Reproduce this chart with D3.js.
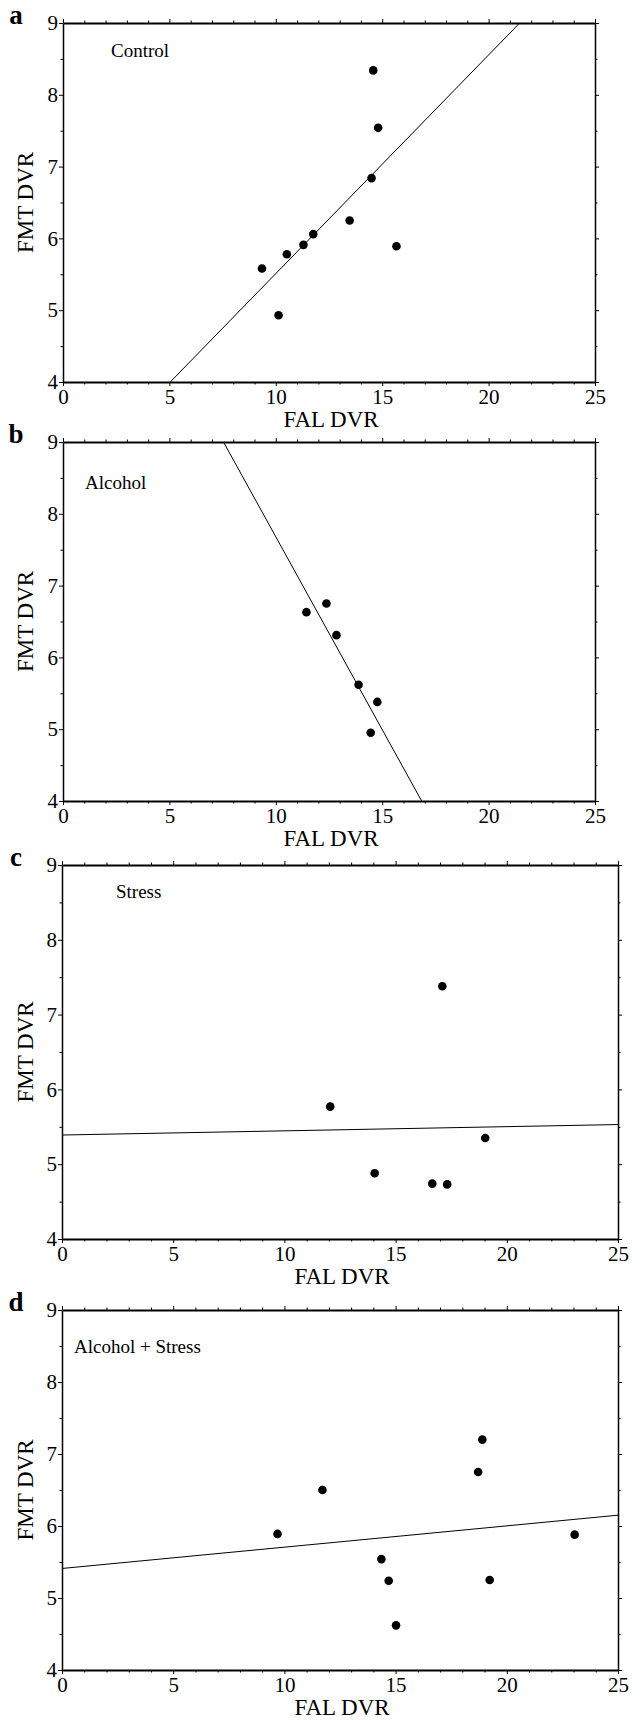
<!DOCTYPE html>
<html lang="en">
<head>
<meta charset="utf-8">
<script src="https://d3js.org/d3.v7.min.js"></script>
<style type="text/css">
body {
  margin: 0;
  background-color: #ffffff;
}
.axis line, .axis path {
  stroke: #000;
  fill: none;
}
</style>
</head>
<body>
<script type="text/javascript">

// panel letters and group names
var panelLetters = ["a", "b", "c", "d"];
var groupNames = ["Control", "Alcohol", "Stress", "Alcohol + Stress"];

// FAL DVR (x) and FMT DVR (y) per group
var controlX = [9.35, 10.13, 10.52, 11.30, 11.76, 13.47, 14.50, 14.58, 14.81, 15.67];
var controlY = [5.58, 4.93, 5.78, 5.91, 6.06, 6.25, 6.84, 8.34, 7.54, 5.89];

var alcoholX = [11.44, 12.38, 12.85, 13.89, 14.77, 14.46];
var alcoholY = [6.63, 6.75, 6.31, 5.62, 5.38, 4.95];

var stressX = [12.06, 17.10, 14.06, 16.65, 17.32, 19.03];
var stressY = [5.77, 7.38, 4.88, 4.74, 4.73, 5.35];

var comboX = [9.69, 11.71, 14.36, 14.69, 15.02, 18.71, 18.90, 19.23, 23.05];
var comboY = [5.89, 6.50, 5.54, 5.24, 4.62, 6.75, 7.20, 5.25, 5.88];

// regression lines: [intercept, slope]
var controlFit = [2.465, 0.3045];
var alcoholFit = [13.05, -0.537];
var stressFit = [5.39, 0.0056];
var comboFit = [5.41, 0.0296];

// axes
var xDomain = [0, 25];
var yDomain = [4, 9];
var xMajorTicks = [0, 5, 10, 15, 20, 25];
var yMajorTicks = [4, 5, 6, 7, 8, 9];
var xTitle = "FAL DVR";
var yTitle = "FMT DVR";

var xsAll = [controlX, alcoholX, stressX, comboX];
var ysAll = [controlY, alcoholY, stressY, comboY];
var fitsAll = [controlFit, alcoholFit, stressFit, comboFit];

// layout of the four plot boxes (pixels)
var boxes = [
  {left: 63, right: 595, top: 23, bottom: 382, lx: 48, ly: 34},
  {left: 63, right: 595, top: 442, bottom: 801, lx: 22, ly: 47},
  {left: 62, right: 618, top: 865, bottom: 1239, lx: 54, ly: 33},
  {left: 62, right: 618, top: 1310, bottom: 1670, lx: 12, ly: 43}
];

var serif = '"Liberation Serif", "Times New Roman", Times, serif';
var width = 640;
var height = 1720;

var svg = d3.select("body")
  .append("svg")
  .attr("width", width)
  .attr("height", height)
  .attr("font-family", serif);

var xMinor = d3.range(0, 26, 1).filter(function(v) { return v % 5 !== 0; });
var yMinor = d3.range(4.5, 9, 1);
var intFmt = d3.format("d");

function styleAxis(sel, sw) {
  sel.attr("font-family", null).attr("font-size", null);
  sel.selectAll("text")
    .style("font-family", serif)
    .style("font-size", "21px")
    .attr("fill", "#000");
  sel.select(".domain").attr("stroke-width", sw);
}

boxes.forEach(function(b, i) {
  var x = d3.scaleLinear().domain(xDomain).range([b.left, b.right]);
  var y = d3.scaleLinear().domain(yDomain).range([b.bottom, b.top]);

  var g = svg.append("g");

  // minor ticks, all four sides
  g.append("g").attr("class", "axis")
    .attr("transform", "translate(0," + b.bottom + ")")
    .call(d3.axisBottom(x).tickValues(xMinor).tickSize(2.5).tickSizeOuter(0).tickFormat(""))
    .select(".domain").remove();
  g.append("g").attr("class", "axis")
    .attr("transform", "translate(0," + b.top + ")")
    .call(d3.axisTop(x).tickValues(xMinor).tickSize(2.5).tickSizeOuter(0).tickFormat(""))
    .select(".domain").remove();
  g.append("g").attr("class", "axis")
    .attr("transform", "translate(" + b.left + ",0)")
    .call(d3.axisLeft(y).tickValues(yMinor).tickSize(2.5).tickSizeOuter(0).tickFormat(""))
    .select(".domain").remove();
  g.append("g").attr("class", "axis")
    .attr("transform", "translate(" + b.right + ",0)")
    .call(d3.axisRight(y).tickValues(yMinor).tickSize(2.5).tickSizeOuter(0).tickFormat(""))
    .select(".domain").remove();

  // major axes with frame
  g.append("g").attr("class", "axis")
    .attr("transform", "translate(0," + b.bottom + ")")
    .call(d3.axisBottom(x).tickValues(xMajorTicks).tickFormat(intFmt)
      .tickSize(4).tickSizeOuter(0).tickPadding(3))
    .call(styleAxis, 2);

  g.append("g").attr("class", "axis")
    .attr("transform", "translate(0," + b.top + ")")
    .call(d3.axisTop(x).tickValues(xMajorTicks).tickSize(4).tickSizeOuter(0).tickFormat(""))
    .call(styleAxis, 2);

  g.append("g").attr("class", "axis")
    .attr("transform", "translate(" + b.left + ",0)")
    .call(d3.axisLeft(y).tickValues(yMajorTicks).tickFormat(intFmt)
      .tickSize(4).tickSizeOuter(0).tickPadding(1))
    .call(styleAxis, 1.5);

  g.append("g").attr("class", "axis")
    .attr("transform", "translate(" + b.right + ",0)")
    .call(d3.axisRight(y).tickValues(yMajorTicks).tickSize(4).tickSizeOuter(0).tickFormat(""))
    .call(styleAxis, 1.5);

  // clip for the fit line
  var clipId = "clip" + i;
  svg.append("clipPath").attr("id", clipId)
    .append("rect")
    .attr("x", b.left).attr("y", b.top)
    .attr("width", b.right - b.left).attr("height", b.bottom - b.top);

  var fit = fitsAll[i];
  var fitPts = xDomain.map(function(v) { return [v, fit[0] + fit[1] * v]; });
  var line = d3.line()
    .x(function(d) { return x(d[0]); })
    .y(function(d) { return y(d[1]); });
  g.append("path")
    .attr("clip-path", "url(#" + clipId + ")")
    .attr("d", line(fitPts))
    .attr("fill", "none")
    .attr("stroke", "#000")
    .attr("stroke-width", 1);

  // points
  var pts = xsAll[i].map(function(v, k) { return [v, ysAll[i][k]]; });
  g.selectAll("circle.pt")
    .data(pts)
    .enter()
    .append("circle")
    .attr("class", "pt")
    .attr("cx", function(d) { return x(d[0]); })
    .attr("cy", function(d) { return y(d[1]); })
    .attr("r", 4.3)
    .attr("fill", "#000");

  // group name
  g.append("text")
    .attr("x", b.left + b.lx)
    .attr("y", b.top + b.ly)
    .style("font-family", serif)
    .style("font-size", "19px")
    .text(groupNames[i]);

  // panel letter
  g.append("text")
    .attr("x", 16)
    .attr("y", b.top + 1)
    .attr("text-anchor", "middle")
    .style("font-family", serif)
    .style("font-size", "27px")
    .style("font-weight", "bold")
    .text(panelLetters[i]);

  // axis titles
  g.append("text")
    .attr("x", (b.left + b.right) / 2 + 2)
    .attr("y", b.bottom + 45)
    .attr("text-anchor", "middle")
    .style("font-family", serif)
    .style("font-size", "23px")
    .text(xTitle);

  g.append("text")
    .attr("transform", "translate(33," + (b.top + b.bottom) / 2 + ") rotate(-90)")
    .attr("text-anchor", "middle")
    .style("font-family", serif)
    .style("font-size", "23px")
    .text(yTitle);
});

</script>
</body>
</html>
